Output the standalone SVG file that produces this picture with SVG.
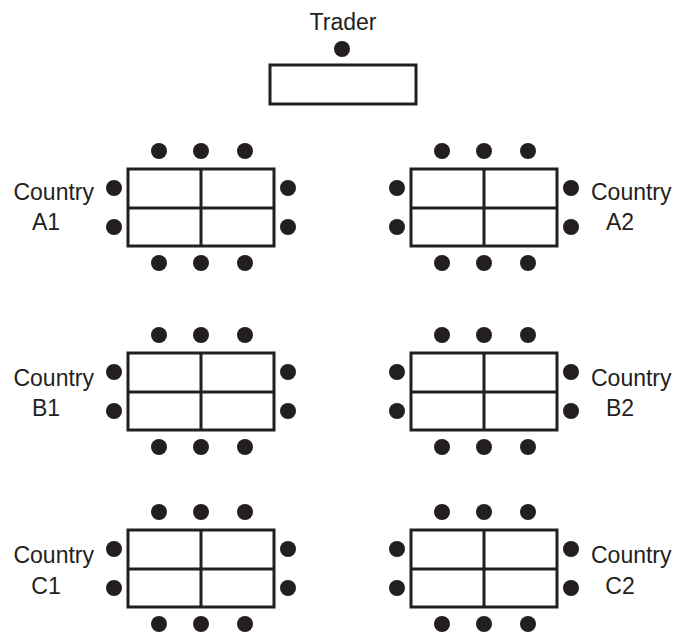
<svg xmlns="http://www.w3.org/2000/svg" width="676" height="632" viewBox="0 0 676 632">
  <defs>
    <style>
      .tbl { fill: #ffffff; stroke: #231f20; stroke-width: 3; }
      .ln { stroke: #231f20; stroke-width: 3; }
      .seat { fill: #231f20; }
      .lbl { font-family: "Liberation Sans", Arial, sans-serif; font-size: 23px; fill: #231f20; }
    </style>
    <!-- one table with ten seats, origin at table's top-left corner -->
    <g id="table">
      <rect class="tbl" x="0" y="0" width="146" height="77"/>
      <line class="ln" x1="73" y1="0" x2="73" y2="77"/>
      <line class="ln" x1="0" y1="39" x2="146" y2="39"/>
      <circle class="seat" cx="31" cy="-18" r="8"/>
      <circle class="seat" cx="73" cy="-18" r="8"/>
      <circle class="seat" cx="117" cy="-18" r="8"/>
      <circle class="seat" cx="31" cy="94" r="8"/>
      <circle class="seat" cx="73" cy="94" r="8"/>
      <circle class="seat" cx="117" cy="94" r="8"/>
      <circle class="seat" cx="-14" cy="19" r="8"/>
      <circle class="seat" cx="-14" cy="58" r="8"/>
      <circle class="seat" cx="160" cy="19" r="8"/>
      <circle class="seat" cx="160" cy="58" r="8"/>
    </g>
  </defs>

  <g id="trader">
    <text class="lbl" x="343" y="30" text-anchor="middle">Trader</text>
    <circle class="seat" cx="342" cy="49" r="8"/>
    <rect class="tbl" x="270" y="65" width="146" height="39"/>
  </g>

  <g id="country-a1">
    <use href="#table" x="128" y="169"/>
    <text class="lbl" x="94" y="200" text-anchor="end">Country</text>
    <text class="lbl" x="46" y="230" text-anchor="middle">A1</text>
  </g>
  <g id="country-a2">
    <use href="#table" x="411" y="169"/>
    <text class="lbl" x="591" y="200">Country</text>
    <text class="lbl" x="620" y="230" text-anchor="middle">A2</text>
  </g>

  <g id="country-b1">
    <use href="#table" x="128" y="353"/>
    <text class="lbl" x="94" y="386" text-anchor="end">Country</text>
    <text class="lbl" x="46" y="416" text-anchor="middle">B1</text>
  </g>
  <g id="country-b2">
    <use href="#table" x="411" y="353"/>
    <text class="lbl" x="591" y="386">Country</text>
    <text class="lbl" x="620" y="416" text-anchor="middle">B2</text>
  </g>

  <g id="country-c1">
    <use href="#table" x="128" y="530"/>
    <text class="lbl" x="94" y="563" text-anchor="end">Country</text>
    <text class="lbl" x="46" y="594" text-anchor="middle">C1</text>
  </g>
  <g id="country-c2">
    <use href="#table" x="411" y="530"/>
    <text class="lbl" x="591" y="563">Country</text>
    <text class="lbl" x="620" y="594" text-anchor="middle">C2</text>
  </g>

  <g id="connectors"/>
</svg>
